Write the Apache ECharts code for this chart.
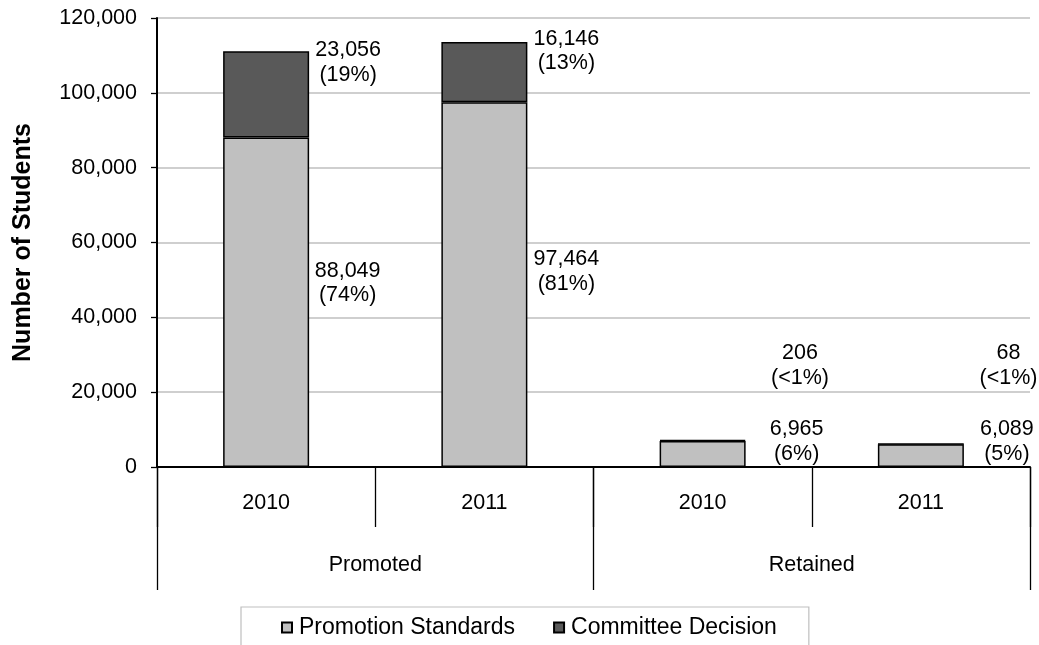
<!DOCTYPE html>
<html>
<head>
<meta charset="utf-8">
<script src="https://cdn.jsdelivr.net/npm/echarts@6/dist/echarts.min.js"></script>
<style>
  html, body { margin: 0; padding: 0; background: #fff; }
  #chart { width: 1039px; height: 645px; }
</style>
</head>
<body>
<div id="chart"></div>
<script>
// ---- data ----
const categories = ['2010', '2011', '2010', '2011'];
const groups = ['Promoted', 'Retained'];
const promotionStandards = [88049, 97464, 6965, 6089];
const committeeDecision = [23056, 16146, 206, 68];
const promotionPct = ['74%', '81%', '6%', '5%'];
const committeePct = ['19%', '13%', '<1%', '<1%'];
const seriesNames = ['Promotion Standards', 'Committee Decision'];

// ---- label placement (style, not data) ----
const psLabelOffset = [[38.5, -19], [39, -13], [51, -12.5], [43, -14]];
const cdLabelOffset = [[39, -32], [39, -21], [54, -75], [44, -78.5]];

const FONT = '"Liberation Sans", Arial, sans-serif';
const fmt = v => v.toLocaleString('en-US');

function buildData(values, pcts, offsets) {
  return values.map((v, i) => ({
    value: v,
    label: {
      show: true,
      position: 'right',
      distance: 0,
      align: 'center',
      verticalAlign: 'middle',
      offset: offsets[i],
      formatter: fmt(v) + '\n(' + pcts[i] + ')'
    }
  }));
}

const labelStyle = {
  fontFamily: FONT,
  fontSize: 21.5,
  lineHeight: 24.5,
  color: '#000'
};

const chart = echarts.init(document.getElementById('chart'), null, { renderer: 'canvas' });
chart.setOption({
  animation: false,
  backgroundColor: '#fff',
  grid: { left: 157, right: 9, top: 18, bottom: 178, containLabel: false, outerBoundsMode: 'none' },
  legend: {
    data: seriesNames,
    left: 241,
    top: 607,
    padding: [9, 32, 12, 40],
    itemGap: 38,
    itemWidth: 10,
    itemHeight: 10,
    icon: 'rect',
    borderColor: '#bfbfbf',
    borderWidth: 1.2,
    textStyle: { fontFamily: FONT, fontSize: 23, color: '#000', padding: [0, 0, 0, 2] }
  },
  xAxis: [
    {
      type: 'category',
      data: categories,
      position: 'bottom',
      offset: 0,
      axisLine: { show: true, lineStyle: { color: '#000', width: 2 } },
      axisTick: { show: true, length: 60, interval: 0, lineStyle: { color: '#000', width: 1.3 } },
      axisLabel: { interval: 0, margin: 25, fontFamily: FONT, fontSize: 21.5, color: '#000' },
      splitLine: { show: false }
    },
    {
      type: 'category',
      data: groups,
      position: 'bottom',
      offset: 0,
      axisLine: { show: false },
      axisTick: { show: true, length: 123, interval: 0, lineStyle: { color: '#000', width: 1.3 } },
      axisLabel: { interval: 0, margin: 87, fontFamily: FONT, fontSize: 21.5, color: '#000' },
      splitLine: { show: false }
    }
  ],
  yAxis: {
    type: 'value',
    min: 0,
    max: 120000,
    interval: 20000,
    name: 'Number of Students',
    nameLocation: 'middle',
    nameRotate: 90,
    nameGap: 121,
    nameTextStyle: { fontFamily: FONT, fontSize: 25, fontWeight: 'bold', color: '#000' },
    axisLine: { show: true, lineStyle: { color: '#000', width: 2 } },
    axisTick: { show: true, length: 6, lineStyle: { color: '#000', width: 1.3 } },
    axisLabel: { margin: 20, fontFamily: FONT, fontSize: 21.5, color: '#000', formatter: v => fmt(v) },
    splitLine: { show: true, lineStyle: { color: '#bfbfbf', width: 1.5 } }
  },
  series: [
    {
      name: seriesNames[0],
      type: 'bar',
      stack: 'total',
      xAxisIndex: 0,
      barWidth: 86,
      itemStyle: { color: '#c0c0c0', borderColor: '#000', borderWidth: 1.5 },
      label: labelStyle,
      data: buildData(promotionStandards, promotionPct, psLabelOffset)
    },
    {
      name: seriesNames[1],
      type: 'bar',
      stack: 'total',
      xAxisIndex: 0,
      barWidth: 86,
      itemStyle: { color: '#595959', borderColor: '#000', borderWidth: 1.5 },
      label: labelStyle,
      data: buildData(committeeDecision, committeePct, cdLabelOffset)
    }
  ]
});
</script>
</body>
</html>
